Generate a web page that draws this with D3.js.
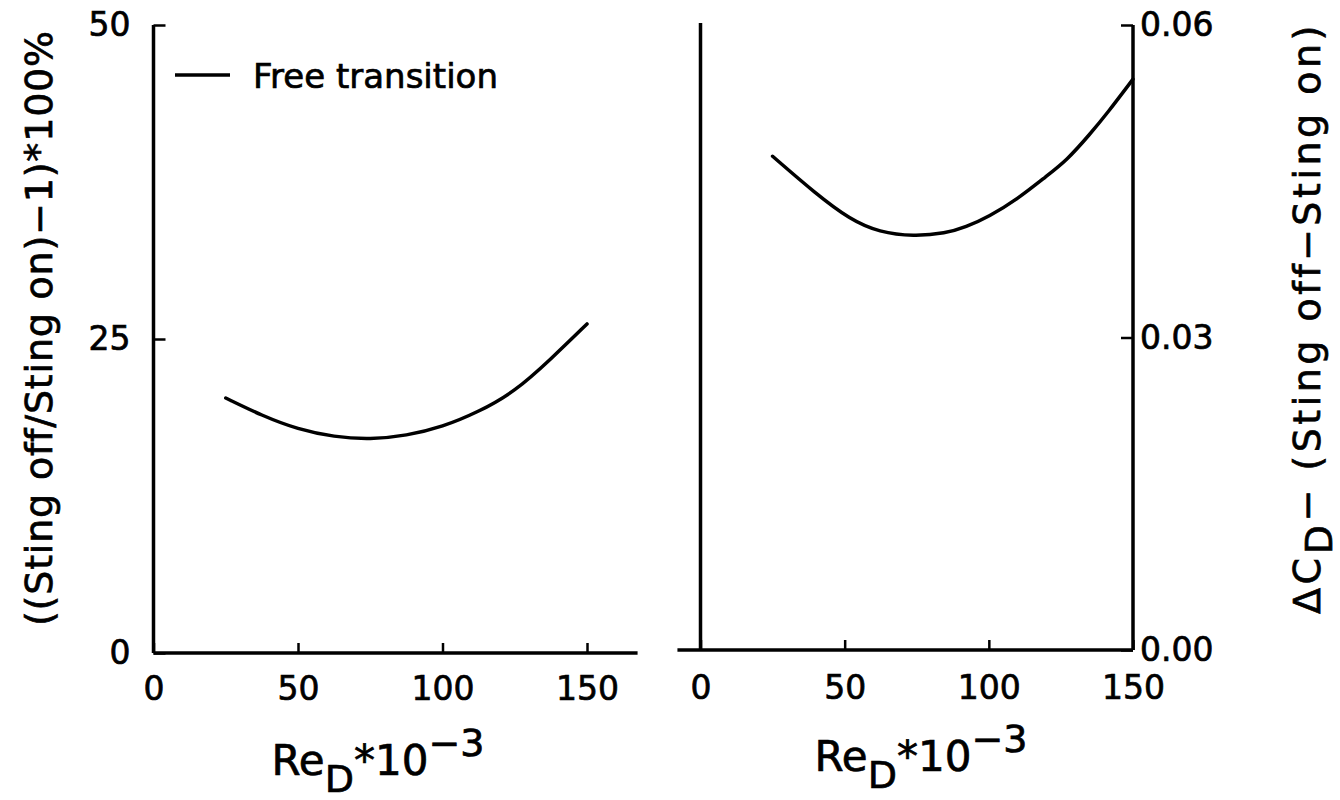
<!DOCTYPE html>
<html>
<head>
<meta charset="utf-8">
<script src="https://cdn.jsdelivr.net/npm/d3@7"></script>
<style>
  body { margin: 0; background: #fff; }
  svg { display: block; }
  text { font-family: "DejaVu Sans", sans-serif; fill: #000; stroke: #000; stroke-width: 0.7px; }
</style>
</head>
<body>
<svg id="chart" width="1340" height="800"></svg>
<script>
let width = 1340, height = 800;

// Re_D * 10^-3
let reLeft = [25, 37.5, 50, 62.5, 75, 87.5, 100, 112.5, 125, 137.5, 150];
// ((Sting off / Sting on) - 1) * 100 %
let pctLeft = [20.3, 18.9, 17.8, 17.2, 17.0, 17.3, 18.0, 19.2, 20.8, 23.4, 26.2];

let reRight = [25, 40, 52, 62, 74, 85, 92, 100, 110, 120, 127, 135, 141, 150];
// delta C_D (Sting off - Sting on)
let dcdRight = [0.0474, 0.0438, 0.0413, 0.0401, 0.0397, 0.0400, 0.0406, 0.0416, 0.0433, 0.0455, 0.0470, 0.0495, 0.0515, 0.0548];

let xTicks = [0, 50, 100, 150];
let yTicksLeft = [0, 25, 50];
let yTicksRight = [0, 0.03, 0.06];
let legendLabel = "Free transition";

let svg = d3.select('#chart');

let xL = d3.scaleLinear().domain([0, 150]).range([153.5, 587]);
let yL = d3.scaleLinear().domain([0, 50]).range([653, 25]);
let xR = d3.scaleLinear().domain([0, 150]).range([700.5, 1133]);
let yR = d3.scaleLinear().domain([0, 0.06]).range([650, 25]);

let strokeW = 3.5;

function styleAxis(g) {
    g.select('.domain').remove();
    g.selectAll('.tick line').attr('stroke', '#000').attr('stroke-width', 2.5);
    g.selectAll('.tick text')
        .style('font-family', '"DejaVu Sans", sans-serif')
        .style('font-size', '33px')
        .attr('fill', '#000');
}

//left panel
let left = svg.append('g');

left.append('g')
    .attr('transform', 'translate(0,' + yL(0) + ')')
    .call(d3.axisBottom(xL).tickValues(xTicks).tickSize(-10).tickPadding(24))
    .call(styleAxis);

left.append('g')
    .attr('transform', 'translate(' + xL(0) + ',0)')
    .call(d3.axisLeft(yL).tickValues(yTicksLeft).tickSize(-12).tickPadding(23))
    .call(styleAxis);

left.append('line')
    .attr('x1', xL(0)).attr('x2', xL(167.5))
    .attr('y1', yL(0)).attr('y2', yL(0))
    .attr('stroke', '#000').attr('stroke-width', strokeW);
left.append('line')
    .attr('x1', xL(0)).attr('x2', xL(0))
    .attr('y1', yL(0)).attr('y2', yL(50))
    .attr('stroke', '#000').attr('stroke-width', strokeW);

left.append('path')
    .datum(reLeft.map((v, i) => [v, pctLeft[i]]))
    .attr('fill', 'none')
    .attr('stroke', '#000')
    .attr('stroke-width', strokeW)
    .attr('stroke-linecap', 'round')
    .attr('d', d3.line().x((d) => xL(d[0])).y((d) => yL(d[1])).curve(d3.curveBasis));

// legend
left.append('line')
    .attr('x1', 175).attr('x2', 230)
    .attr('y1', 75).attr('y2', 75)
    .attr('stroke', '#000').attr('stroke-width', strokeW);
left.append('text')
    .attr('x', 253).attr('y', 88)
    .style('font-size', '34px')
    .text(legendLabel);

left.append('text')
    .attr('transform', 'translate(52,' + 328 + ') rotate(-90)')
    .attr('text-anchor', 'middle')
    .style('font-size', '38px')
    .style('letter-spacing', '0.8px')
    .text('((Sting off/Sting on)\u22121)*100%');

function xTitle(g, cx, y) {
    let t = g.append('text')
        .attr('x', cx).attr('y', y)
        .attr('text-anchor', 'middle')
        .style('font-size', '42px');
    t.append('tspan').text('Re');
    t.append('tspan').attr('dy', 17).style('font-size', '38px').text('D');
    t.append('tspan').attr('dy', -17).text('*10');
    t.append('tspan').attr('dy', -19).style('font-size', '38px').text('\u22123');
}
xTitle(left, 378, 775);

//right panel
let right = svg.append('g');

right.append('g')
    .attr('transform', 'translate(0,' + yR(0) + ')')
    .call(d3.axisBottom(xR).tickValues(xTicks).tickSize(-10).tickPadding(26))
    .call(styleAxis);

right.append('g')
    .attr('transform', 'translate(' + xR(150) + ',0)')
    .call(d3.axisRight(yR).tickValues(yTicksRight).tickSize(-12).tickPadding(7).tickFormat(d3.format('.2f')))
    .call(styleAxis);

right.append('line')
    .attr('x1', xR(-8)).attr('x2', xR(150))
    .attr('y1', yR(0)).attr('y2', yR(0))
    .attr('stroke', '#000').attr('stroke-width', strokeW);
right.append('line')
    .attr('x1', xR(0)).attr('x2', xR(0))
    .attr('y1', yR(0)).attr('y2', yR(0.0602))
    .attr('stroke', '#000').attr('stroke-width', strokeW);
right.append('line')
    .attr('x1', xR(150)).attr('x2', xR(150))
    .attr('y1', yR(0)).attr('y2', yR(0.06))
    .attr('stroke', '#000').attr('stroke-width', strokeW);

right.append('path')
    .datum(reRight.map((v, i) => [v, dcdRight[i]]))
    .attr('fill', 'none')
    .attr('stroke', '#000')
    .attr('stroke-width', strokeW)
    .attr('stroke-linecap', 'round')
    .attr('d', d3.line().x((d) => xR(d[0])).y((d) => yR(d[1])).curve(d3.curveBasis));

let rl = right.append('text')
    .attr('transform', 'translate(1320,' + 318 + ') rotate(-90)')
    .attr('text-anchor', 'middle')
    .style('font-size', '38px')
    .style('letter-spacing', '3.5px');
rl.append('tspan').text('\u0394C');
rl.append('tspan').attr('dy', 12).text('D');
rl.append('tspan').attr('dy', -12).text('\u2212 (Sting off\u2212Sting on)');

xTitle(right, 921, 771);
</script>
</body>
</html>
